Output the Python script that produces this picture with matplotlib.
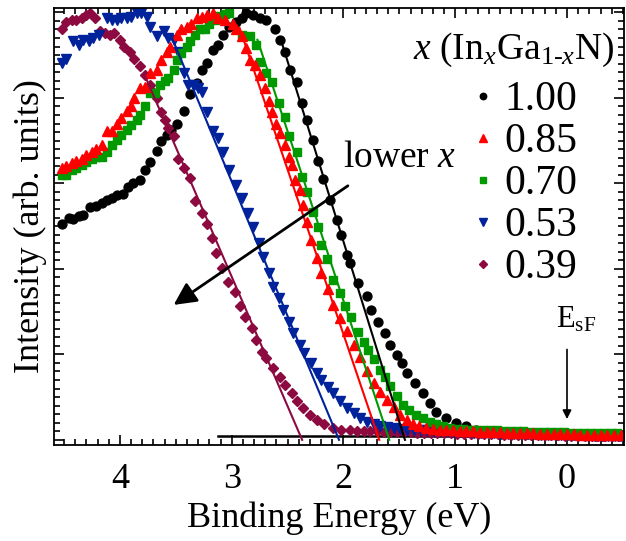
import numpy as np
import matplotlib
matplotlib.use("Agg")
import matplotlib.pyplot as plt
from matplotlib.ticker import MultipleLocator, NullFormatter

plt.rcParams['font.family'] = ['Liberation Serif', 'DejaVu Serif']
plt.rcParams['mathtext.fontset'] = 'custom'
plt.rcParams['mathtext.rm'] = 'Liberation Serif'
plt.rcParams['mathtext.it'] = 'Liberation Serif:italic'

# binding energy (eV), intensity (arb. units)
x100 = np.array([
    (4.52, 2.53), (4.46, 2.60), (4.42, 2.58), (4.37, 2.62), (4.33, 2.63), (4.27, 2.72),
    (4.21, 2.73), (4.16, 2.77), (4.12, 2.81), (4.07, 2.83), (4.03, 2.86), (3.97, 2.87),
    (3.93, 2.96), (3.88, 3.00), (3.82, 3.04), (3.78, 3.16), (3.73, 3.25), (3.67, 3.38),
    (3.63, 3.49), (3.58, 3.56), (3.54, 3.63), (3.49, 3.70), (3.43, 3.85), (3.37, 4.04),
    (3.31, 4.17), (3.27, 4.33), (3.22, 4.41), (3.17, 4.56), (3.12, 4.62), (3.08, 4.74),
    (3.02, 4.83), (2.96, 4.89), (2.91, 4.93), (2.87, 4.99), (2.81, 4.97), (2.75, 4.94),
    (2.69, 4.91), (2.61, 4.81), (2.57, 4.68), (2.52, 4.54), (2.48, 4.33), (2.42, 4.19),
    (2.37, 3.94), (2.33, 3.74), (2.27, 3.51), (2.23, 3.26), (2.18, 3.05), (2.12, 2.81),
    (2.06, 2.57), (2.02, 2.40), (1.97, 2.16), (1.94, 2.07), (1.87, 1.83), (1.79, 1.68),
    (1.75, 1.52), (1.69, 1.38), (1.63, 1.25), (1.58, 1.11), (1.52, 0.99), (1.48, 0.90),
    (1.43, 0.78), (1.36, 0.66), (1.29, 0.55), (1.23, 0.43), (1.17, 0.33), (1.08, 0.25),
    (0.99, 0.20), (0.90, 0.16), (0.81, 0.12), (0.72, 0.10), (0.65, 0.09), (0.58, 0.08),
    (0.51, 0.08), (0.44, 0.08), (0.37, 0.07), (0.30, 0.07), (0.23, 0.07), (0.16, 0.07),
    (0.09, 0.06), (0.02, 0.06), (-0.05, 0.06), (-0.12, 0.06), (-0.19, 0.06), (-0.26, 0.05),
    (-0.33, 0.05), (-0.40, 0.05), (-0.47, 0.05)])

x085 = np.array([
    (4.52, 3.18), (4.48, 3.20), (4.43, 3.24), (4.39, 3.26), (4.34, 3.29), (4.30, 3.33),
    (4.25, 3.37), (4.21, 3.40), (4.16, 3.45), (4.12, 3.61), (4.07, 3.61), (4.03, 3.70),
    (3.99, 3.76), (3.94, 3.85), (3.90, 3.90), (3.87, 4.00), (3.82, 4.12), (3.78, 4.13),
    (3.73, 4.29), (3.67, 4.33), (3.63, 4.44), (3.58, 4.54), (3.55, 4.60), (3.49, 4.74),
    (3.45, 4.80), (3.40, 4.83), (3.36, 4.87), (3.31, 4.93), (3.27, 4.95), (3.22, 4.97),
    (3.17, 4.99), (3.12, 4.93), (3.06, 4.91), (2.99, 4.87), (2.96, 4.80), (2.91, 4.72),
    (2.87, 4.58), (2.84, 4.44), (2.79, 4.39), (2.75, 4.27), (2.70, 4.11), (2.67, 3.96),
    (2.64, 3.84), (2.60, 3.70), (2.57, 3.59), (2.52, 3.45), (2.49, 3.31), (2.46, 3.22),
    (2.43, 3.04), (2.39, 2.92), (2.36, 2.75), (2.33, 2.55), (2.29, 2.34), (2.24, 2.13),
    (2.20, 1.95), (2.14, 1.77), (2.09, 1.58), (2.03, 1.42), (1.97, 1.27), (1.91, 1.11),
    (1.85, 0.97), (1.79, 0.80), (1.73, 0.66), (1.67, 0.56), (1.61, 0.47), (1.55, 0.38),
    (1.49, 0.29), (1.43, 0.23), (1.38, 0.18), (1.32, 0.16), (1.26, 0.14), (1.20, 0.13),
    (1.14, 0.12), (1.08, 0.11), (1.02, 0.11), (0.96, 0.10), (0.90, 0.10), (0.84, 0.10),
    (0.78, 0.09), (0.72, 0.09), (0.66, 0.09), (0.60, 0.09), (0.54, 0.08), (0.48, 0.08),
    (0.42, 0.08), (0.36, 0.08), (0.30, 0.08), (0.24, 0.07), (0.18, 0.07), (0.12, 0.07),
    (0.06, 0.07), (0.00, 0.07), (-0.06, 0.07), (-0.12, 0.06), (-0.18, 0.06), (-0.24, 0.06),
    (-0.30, 0.06), (-0.36, 0.06), (-0.42, 0.06), (-0.48, 0.06)])

x070 = np.array([
    (4.52, 3.10), (4.48, 3.10), (4.43, 3.16), (4.39, 3.18), (4.34, 3.22), (4.30, 3.25),
    (4.25, 3.29), (4.21, 3.31), (4.16, 3.31), (4.12, 3.37), (4.07, 3.45), (4.03, 3.51),
    (3.99, 3.57), (3.94, 3.63), (3.90, 3.68), (3.85, 3.74), (3.82, 3.80), (3.78, 3.90),
    (3.73, 4.06), (3.69, 4.06), (3.64, 4.15), (3.60, 4.20), (3.57, 4.23), (3.52, 4.33),
    (3.49, 4.44), (3.45, 4.52), (3.40, 4.60), (3.37, 4.66), (3.33, 4.74), (3.28, 4.80),
    (3.24, 4.80), (3.20, 4.87), (3.15, 4.91), (3.11, 4.96), (3.06, 4.98), (3.02, 4.99),
    (2.91, 4.74), (2.84, 4.72), (2.78, 4.62), (2.75, 4.42), (2.69, 4.29), (2.64, 4.19),
    (2.58, 3.94), (2.52, 3.78), (2.49, 3.55), (2.42, 3.37), (2.37, 3.08), (2.33, 2.90),
    (2.27, 2.67), (2.23, 2.49), (2.20, 2.28), (2.15, 2.11), (2.09, 1.87), (2.03, 1.72),
    (1.99, 1.56), (1.93, 1.44), (1.87, 1.26), (1.82, 1.15), (1.78, 1.05), (1.73, 0.94),
    (1.67, 0.82), (1.63, 0.74), (1.58, 0.63), (1.52, 0.51), (1.47, 0.41), (1.41, 0.35),
    (1.35, 0.29), (1.29, 0.25), (1.23, 0.21), (1.17, 0.18), (1.11, 0.16), (1.05, 0.14),
    (0.99, 0.13), (0.93, 0.13), (0.87, 0.12), (0.81, 0.12), (0.75, 0.11), (0.69, 0.11),
    (0.63, 0.11), (0.57, 0.10), (0.51, 0.10), (0.45, 0.10), (0.39, 0.10), (0.33, 0.09),
    (0.27, 0.09), (0.21, 0.09), (0.15, 0.09), (0.09, 0.09), (0.03, 0.09), (-0.03, 0.08),
    (-0.09, 0.08), (-0.15, 0.08), (-0.21, 0.08), (-0.27, 0.08), (-0.33, 0.08), (-0.39, 0.08),
    (-0.45, 0.08)])

x053 = np.array([
    (4.52, 4.41), (4.48, 4.46), (4.42, 4.66), (4.37, 4.62), (4.33, 4.68), (4.28, 4.66),
    (4.24, 4.70), (4.19, 4.74), (4.12, 4.93), (4.07, 4.91), (4.03, 4.91), (3.99, 4.93),
    (3.94, 4.94), (3.90, 4.95), (3.85, 4.99), (3.81, 4.99), (3.76, 4.95), (3.73, 4.83),
    (3.67, 4.72), (3.61, 4.78), (3.57, 4.70), (3.52, 4.68), (3.48, 4.54), (3.43, 4.29),
    (3.39, 4.15), (3.34, 4.15), (3.30, 4.11), (3.27, 4.07), (3.22, 3.84), (3.17, 3.61),
    (3.12, 3.53), (3.08, 3.37), (3.02, 3.16), (2.96, 2.98), (2.91, 2.83), (2.85, 2.65),
    (2.81, 2.49), (2.76, 2.30), (2.72, 2.14), (2.67, 1.95), (2.63, 1.79), (2.58, 1.66),
    (2.54, 1.52), (2.49, 1.38), (2.45, 1.25), (2.39, 1.11), (2.35, 1.01), (2.29, 0.90),
    (2.24, 0.78), (2.20, 0.70), (2.14, 0.62), (2.09, 0.55), (2.03, 0.45), (1.97, 0.37),
    (1.91, 0.31), (1.85, 0.25), (1.79, 0.21), (1.73, 0.18), (1.67, 0.16), (1.61, 0.15),
    (1.55, 0.14), (1.49, 0.13), (1.43, 0.12), (1.37, 0.12), (1.31, 0.11), (1.25, 0.11),
    (1.19, 0.10), (1.13, 0.10), (1.07, 0.10), (1.01, 0.09), (0.95, 0.09), (0.89, 0.09),
    (0.83, 0.08), (0.77, 0.08), (0.71, 0.08), (0.65, 0.08), (0.59, 0.07), (0.53, 0.07),
    (0.47, 0.07), (0.41, 0.07), (0.35, 0.07), (0.29, 0.07), (0.23, 0.06), (0.17, 0.06),
    (0.11, 0.06), (0.05, 0.06), (-0.01, 0.06), (-0.07, 0.06), (-0.13, 0.06), (-0.19, 0.05),
    (-0.25, 0.05), (-0.31, 0.05), (-0.37, 0.05), (-0.43, 0.05), (-0.49, 0.05)])

x039 = np.array([
    (4.52, 4.80), (4.48, 4.89), (4.43, 4.91), (4.39, 4.91), (4.34, 4.93), (4.30, 4.97),
    (4.27, 4.99), (4.22, 4.93), (4.18, 4.78), (4.13, 4.76), (4.09, 4.74), (4.05, 4.76),
    (4.00, 4.68), (3.96, 4.60), (3.91, 4.54), (3.87, 4.46), (3.82, 4.37), (3.78, 4.27),
    (3.73, 4.15), (3.70, 4.07), (3.67, 4.00), (3.63, 3.84), (3.60, 3.74), (3.57, 3.65),
    (3.52, 3.55), (3.48, 3.29), (3.43, 3.18), (3.37, 3.06), (3.33, 2.79), (3.27, 2.65),
    (3.22, 2.53), (3.18, 2.36), (3.14, 2.18), (3.09, 2.01), (3.03, 1.85), (2.97, 1.73),
    (2.93, 1.56), (2.88, 1.44), (2.82, 1.31), (2.78, 1.17), (2.73, 1.03), (2.69, 0.96),
    (2.63, 0.84), (2.57, 0.74), (2.52, 0.64), (2.46, 0.55), (2.42, 0.45), (2.36, 0.37),
    (2.30, 0.29), (2.24, 0.23), (2.17, 0.18), (2.09, 0.14), (2.02, 0.12), (1.94, 0.11),
    (1.88, 0.10), (1.82, 0.10), (1.76, 0.10), (1.70, 0.10), (1.64, 0.09), (1.58, 0.09),
    (1.52, 0.09), (1.46, 0.09), (1.40, 0.09), (1.34, 0.08), (1.28, 0.08), (1.22, 0.08),
    (1.16, 0.08), (1.10, 0.08), (1.04, 0.08), (0.98, 0.07), (0.92, 0.07), (0.86, 0.07),
    (0.80, 0.07), (0.74, 0.07), (0.68, 0.07), (0.62, 0.07), (0.56, 0.06), (0.50, 0.06),
    (0.44, 0.06), (0.38, 0.06), (0.32, 0.06), (0.26, 0.06), (0.20, 0.06), (0.14, 0.06),
    (0.08, 0.06), (0.02, 0.05), (-0.04, 0.05), (-0.10, 0.05), (-0.16, 0.05), (-0.22, 0.05),
    (-0.28, 0.05), (-0.34, 0.05), (-0.40, 0.05), (-0.46, 0.05)])

# linear fits of the leading edges: (E_top, I_top, E_bottom, I_bottom)
fit100 = (2.56, 4.68, 1.45, 0.0)
fit085 = (2.93, 4.82, 1.68, 0.0)
fit070 = (2.77, 4.68, 1.59, 0.0)
fit053 = (3.54, 4.72, 2.04, 0.0)
fit039 = (3.78, 4.27, 2.37, 0.0)
baseline = (3.12, -0.51, 0.05)

fig = plt.figure(figsize=(6.26, 5.41), dpi=100)
ax = fig.add_axes([0.0863, 0.1775, 0.9105, 0.8075])

ax.plot(baseline[:2], [baseline[2]] * 2, color='k', lw=1.8, zorder=1)

series = [
    (x100, fit100, 'k', 'o', 6.4, '1.00'),
    (x039, fit039, '#8c0a40', 'D', 5.2, '0.39'),
    (x053, fit053, '#00229a', 'v', 7.2, '0.53'),
    (x070, fit070, '#009900', 's', 5.8, '0.70'),
    (x085, fit085, '#ff0000', '^', 7.2, '0.85'),
]
handles = {}
for data, fit, col, mk, ms, lab in series:
    h, = ax.plot(data[:, 0], data[:, 1], ls='none', marker=mk, ms=ms,
                 color=col, mec=col, label=lab, zorder=2)
    handles[lab] = h
    ax.plot([fit[0], fit[2]], [fit[1], fit[3]], color=col, lw=1.5, zorder=3)

order = ['1.00', '0.85', '0.70', '0.53', '0.39']
leg = ax.legend([handles[k] for k in order], order, loc='upper right',
                bbox_to_anchor=(0.93, 0.848), frameon=False, fontsize=30,
                markerscale=0.72, handlelength=0.45, handletextpad=0.3,
                labelspacing=0.085, borderpad=0.0, borderaxespad=0.15)
ax.text(0.807, 0.904, r'$x$ (In$_x$Ga$_{1\text{-}x}$N)', fontsize=27,
        ha='center', va='center', transform=ax.transAxes)

ax.annotate('', xy=(3.54, 1.56), xytext=(1.94, 2.99),
            arrowprops=dict(arrowstyle='-|>', color='k', lw=2, mutation_scale=34))
ax.text(1.50, 3.19, r'lower $x$', fontsize=27, ha='center', va='baseline')

ax.annotate('', xy=(0.0, 0.21), xytext=(0.0, 1.09),
            arrowprops=dict(arrowstyle='-|>', color='k', lw=1.2, mutation_scale=13))
ax.text(-0.08, 1.31, r'E$_{\mathrm{sF}}$', fontsize=22, ha='center', va='baseline')

ax.set_xlim(4.59, -0.51)
ax.set_ylim(-0.06, 5.05)
ax.xaxis.set_major_locator(MultipleLocator(1))
ax.xaxis.set_minor_locator(MultipleLocator(0.1))
ax.yaxis.set_major_locator(MultipleLocator(1))
ax.yaxis.set_minor_locator(MultipleLocator(0.1))
ax.yaxis.set_major_formatter(NullFormatter())
ax.tick_params(which='both', direction='in', top=True, right=True, width=1.2)
ax.tick_params(which='major', length=7, labelsize=26, pad=13)
ax.tick_params(which='minor', length=4)
for s in ax.spines.values():
    s.set_linewidth(1.3)

ax.set_xlabel('Binding Energy (eV)', fontsize=26, labelpad=4)
ax.set_ylabel('Intensity (arb. units)', fontsize=26)
ax.yaxis.set_label_coords(-0.012, 0.5)

fig.savefig('out.png', dpi=100)
